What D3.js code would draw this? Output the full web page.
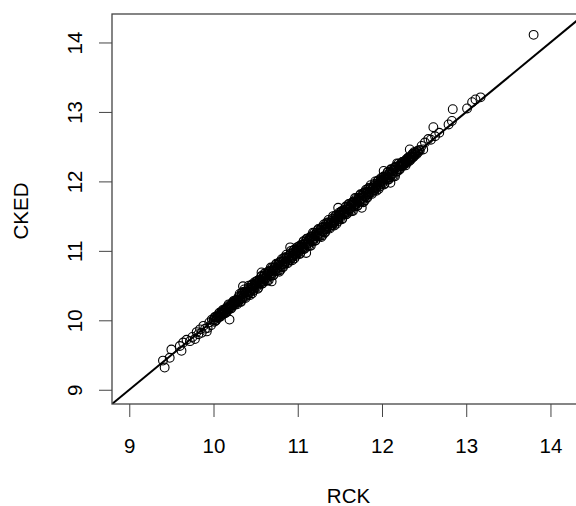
<!DOCTYPE html>
<html>
<head>
<meta charset="utf-8">
<script src="https://cdn.jsdelivr.net/npm/d3@7"></script>
<style>
  html, body { margin: 0; padding: 0; background: #fff; overflow: hidden; }
  text { font-family: "Liberation Sans", Arial, sans-serif; fill: #000; }
</style>
</head>
<body>
<div id="chart"></div>
<script>
// RCK (x) and CKED (y) values
const rck = [
  9.40, 9.42, 9.48, 9.50, 9.60, 9.62, 9.64, 9.68, 9.72, 9.75, 9.78, 9.80, 9.82, 9.84, 9.86, 9.88, 9.90, 9.92, 9.93, 9.95, 9.97, 9.98,
  10.00, 10.01, 10.02, 10.03, 10.04, 10.05, 10.06, 10.07, 10.08, 10.09,
  10.10, 10.11, 10.12, 10.13, 10.14, 10.15, 10.16, 10.17, 10.18, 10.19,
  10.20, 10.21, 10.22, 10.23, 10.24, 10.25, 10.26, 10.27, 10.28, 10.29,
  10.30, 10.31, 10.32, 10.33, 10.34, 10.35, 10.36, 10.37, 10.38, 10.39,
  10.40, 10.41, 10.42, 10.43, 10.44, 10.45, 10.46, 10.47, 10.48, 10.49,
  10.50, 10.51, 10.52, 10.53, 10.54, 10.55, 10.56, 10.57, 10.58, 10.59,
  10.60, 10.61, 10.62, 10.63, 10.64, 10.65, 10.66, 10.67, 10.68, 10.69,
  10.70, 10.71, 10.72, 10.73, 10.74, 10.75, 10.76, 10.77, 10.78, 10.79,
  10.80, 10.81, 10.82, 10.83, 10.84, 10.85, 10.86, 10.87, 10.88, 10.89,
  10.90, 10.91, 10.92, 10.93, 10.94, 10.95, 10.96, 10.97, 10.98, 10.99,
  11.00, 11.01, 11.02, 11.03, 11.04, 11.05, 11.06, 11.07, 11.08, 11.09,
  11.10, 11.11, 11.12, 11.13, 11.14, 11.15, 11.16, 11.17, 11.18, 11.19,
  11.20, 11.21, 11.22, 11.23, 11.24, 11.25, 11.26, 11.27, 11.28, 11.29,
  11.30, 11.31, 11.32, 11.33, 11.34, 11.35, 11.36, 11.37, 11.38, 11.39,
  11.40, 11.41, 11.42, 11.43, 11.44, 11.45, 11.46, 11.47, 11.48, 11.49,
  11.50, 11.51, 11.52, 11.53, 11.54, 11.55, 11.56, 11.57, 11.58, 11.59,
  11.60, 11.61, 11.62, 11.63, 11.64, 11.65, 11.66, 11.67, 11.68, 11.69,
  11.70, 11.71, 11.72, 11.73, 11.74, 11.75, 11.76, 11.77, 11.78, 11.79,
  11.80, 11.81, 11.82, 11.83, 11.84, 11.85, 11.86, 11.87, 11.88, 11.89,
  11.90, 11.91, 11.92, 11.93, 11.94, 11.95, 11.96, 11.97, 11.98, 11.99,
  12.00, 12.01, 12.02, 12.03, 12.04, 12.05, 12.06, 12.07, 12.08, 12.09,
  12.10, 12.11, 12.12, 12.13, 12.14, 12.15, 12.16, 12.17, 12.18, 12.19,
  12.20, 12.21, 12.22, 12.23, 12.24, 12.25, 12.26, 12.27, 12.28, 12.29,
  12.30, 12.31, 12.32, 12.33, 12.34, 12.35, 12.36, 12.37, 12.38, 12.39,
  12.40, 12.41, 12.42, 12.43, 12.44, 12.45,
  10.005, 10.015, 10.025, 10.035, 10.045, 10.055, 10.065, 10.075, 10.085, 10.095,
  10.105, 10.115, 10.125, 10.135, 10.145, 10.155, 10.165, 10.175, 10.185, 10.195,
  10.205, 10.215, 10.225, 10.235, 10.245, 10.255, 10.265, 10.275, 10.285, 10.295,
  10.305, 10.315, 10.325, 10.335, 10.345, 10.355, 10.365, 10.375, 10.385, 10.395,
  10.405, 10.415, 10.425, 10.435, 10.445, 10.455, 10.465, 10.475, 10.485, 10.495,
  10.505, 10.515, 10.525, 10.535, 10.545, 10.555, 10.565, 10.575, 10.585, 10.595,
  10.605, 10.615, 10.625, 10.635, 10.645, 10.655, 10.665, 10.675, 10.685, 10.695,
  10.705, 10.715, 10.725, 10.735, 10.745, 10.755, 10.765, 10.775, 10.785, 10.795,
  10.805, 10.815, 10.825, 10.835, 10.845, 10.855, 10.865, 10.875, 10.885, 10.895,
  10.905, 10.915, 10.925, 10.935, 10.945, 10.955, 10.965, 10.975, 10.985, 10.995,
  11.005, 11.015, 11.025, 11.035, 11.045, 11.055, 11.065, 11.075, 11.085, 11.095,
  11.105, 11.115, 11.125, 11.135, 11.145, 11.155, 11.165, 11.175, 11.185, 11.195,
  11.205, 11.215, 11.225, 11.235, 11.245, 11.255, 11.265, 11.275, 11.285, 11.295,
  11.305, 11.315, 11.325, 11.335, 11.345, 11.355, 11.365, 11.375, 11.385, 11.395,
  11.405, 11.415, 11.425, 11.435, 11.445, 11.455, 11.465, 11.475, 11.485, 11.495,
  11.505, 11.515, 11.525, 11.535, 11.545, 11.555, 11.565, 11.575, 11.585, 11.595,
  11.605, 11.615, 11.625, 11.635, 11.645, 11.655, 11.665, 11.675, 11.685, 11.695,
  11.705, 11.715, 11.725, 11.735, 11.745, 11.755, 11.765, 11.775, 11.785, 11.795,
  11.805, 11.815, 11.825, 11.835, 11.845, 11.855, 11.865, 11.875, 11.885, 11.895,
  11.905, 11.915, 11.925, 11.935, 11.945, 11.955, 11.965, 11.975, 11.985, 11.995,
  12.005, 12.015, 12.025, 12.035, 12.045, 12.055, 12.065, 12.075, 12.085, 12.095,
  12.105, 12.115, 12.125, 12.135, 12.145, 12.155, 12.165, 12.175, 12.185, 12.195,
  12.205, 12.215, 12.225, 12.235, 12.245, 12.255, 12.265, 12.275, 12.285, 12.295,
  12.305, 12.315, 12.325, 12.335, 12.345, 12.355, 12.365, 12.375, 12.385, 12.395,
  10.19, 10.35, 10.57, 10.69, 10.91, 11.10, 11.48, 11.76, 12.02, 12.10, 12.33,
  12.47, 12.49, 12.51, 12.55, 12.58, 12.63, 12.61, 12.68, 12.79, 12.83, 12.84, 13.01, 13.07, 13.11, 13.17, 13.80
];
const cked = [
  9.42, 9.32, 9.46, 9.58, 9.63, 9.56, 9.68, 9.72, 9.70, 9.76, 9.73, 9.83, 9.80, 9.87, 9.82, 9.92, 9.88, 9.84, 9.89, 9.97, 9.93, 10.01,
  10.01, 9.98, 10.05, 10.00, 10.05, 10.07, 10.05, 10.11, 10.05, 10.09,
  10.08, 10.15, 10.11, 10.15, 10.10, 10.16, 10.19, 10.15, 10.23, 10.18,
  10.21, 10.17, 10.25, 10.22, 10.28, 10.22, 10.26, 10.29, 10.23, 10.32,
  10.28, 10.38, 10.27, 10.35, 10.31, 10.41, 10.35, 10.41, 10.32, 10.40,
  10.43, 10.37, 10.50, 10.41, 10.44, 10.50, 10.39, 10.49, 10.45, 10.55,
  10.52, 10.48, 10.57, 10.47, 10.55, 10.59, 10.54, 10.64, 10.53, 10.59,
  10.56, 10.67, 10.61, 10.66, 10.57, 10.67, 10.71, 10.64, 10.76, 10.67,
  10.71, 10.65, 10.76, 10.72, 10.80, 10.71, 10.76, 10.80, 10.70, 10.84,
  10.78, 10.88, 10.77, 10.85, 10.81, 10.91, 10.85, 10.91, 10.82, 10.90,
  10.93, 10.87, 11.00, 10.91, 10.94, 11.00, 10.89, 10.99, 10.95, 11.05,
  11.02, 10.98, 11.07, 10.97, 11.05, 11.09, 11.04, 11.14, 11.03, 11.09,
  11.06, 11.17, 11.11, 11.16, 11.07, 11.17, 11.21, 11.14, 11.26, 11.17,
  11.21, 11.15, 11.26, 11.22, 11.30, 11.21, 11.26, 11.30, 11.20, 11.34,
  11.28, 11.38, 11.27, 11.35, 11.31, 11.41, 11.35, 11.41, 11.32, 11.40,
  11.43, 11.37, 11.50, 11.41, 11.44, 11.50, 11.39, 11.49, 11.45, 11.55,
  11.52, 11.48, 11.57, 11.47, 11.55, 11.59, 11.54, 11.64, 11.53, 11.59,
  11.56, 11.67, 11.61, 11.66, 11.57, 11.67, 11.71, 11.64, 11.76, 11.67,
  11.71, 11.65, 11.76, 11.72, 11.80, 11.71, 11.76, 11.80, 11.70, 11.84,
  11.78, 11.88, 11.77, 11.85, 11.81, 11.91, 11.85, 11.91, 11.82, 11.90,
  11.93, 11.87, 12.00, 11.91, 11.94, 12.00, 11.89, 11.99, 11.95, 12.05,
  12.02, 11.98, 12.07, 11.97, 12.05, 12.09, 12.04, 12.14, 12.03, 12.09,
  12.06, 12.17, 12.11, 12.16, 12.07, 12.17, 12.21, 12.14, 12.26, 12.17,
  12.21, 12.17, 12.25, 12.22, 12.28, 12.22, 12.26, 12.29, 12.23, 12.32,
  12.28, 12.34, 12.31, 12.35, 12.31, 12.36, 12.39, 12.35, 12.42, 12.38,
  12.41, 12.39, 12.44, 12.42, 12.45, 12.45,
  10.005, 10.045, 9.995, 10.045, 10.045, 10.035, 10.095, 10.055, 10.095, 10.115,
  10.135, 10.105, 10.105, 10.135, 10.165, 10.115, 10.175, 10.175, 10.165, 10.225,
  10.175, 10.225, 10.245, 10.225, 10.275, 10.255, 10.245, 10.295, 10.285, 10.265,
  10.345, 10.305, 10.265, 10.395, 10.325, 10.385, 10.445, 10.335, 10.395, 10.365,
  10.405, 10.465, 10.395, 10.365, 10.465, 10.515, 10.455, 10.425, 10.525, 10.505,
  10.495, 10.565, 10.455, 10.565, 10.545, 10.525, 10.625, 10.525, 10.605, 10.635,
  10.675, 10.595, 10.575, 10.645, 10.695, 10.575, 10.695, 10.675, 10.645, 10.755,
  10.645, 10.735, 10.765, 10.705, 10.815, 10.745, 10.715, 10.825, 10.785, 10.725,
  10.845, 10.805, 10.765, 10.895, 10.825, 10.885, 10.945, 10.835, 10.895, 10.865,
  10.905, 10.965, 10.895, 10.865, 10.965, 11.015, 10.955, 10.925, 11.025, 11.005,
  10.995, 11.065, 10.955, 11.065, 11.045, 11.025, 11.125, 11.025, 11.105, 11.135,
  11.175, 11.095, 11.075, 11.145, 11.195, 11.075, 11.195, 11.175, 11.145, 11.255,
  11.145, 11.235, 11.265, 11.205, 11.315, 11.245, 11.215, 11.325, 11.285, 11.225,
  11.345, 11.305, 11.265, 11.395, 11.325, 11.385, 11.445, 11.335, 11.395, 11.365,
  11.405, 11.465, 11.395, 11.365, 11.465, 11.515, 11.455, 11.425, 11.525, 11.505,
  11.495, 11.565, 11.455, 11.565, 11.545, 11.525, 11.625, 11.525, 11.605, 11.635,
  11.675, 11.595, 11.575, 11.645, 11.695, 11.575, 11.695, 11.675, 11.645, 11.755,
  11.645, 11.735, 11.765, 11.705, 11.815, 11.745, 11.715, 11.825, 11.785, 11.725,
  11.845, 11.805, 11.765, 11.895, 11.825, 11.885, 11.945, 11.835, 11.895, 11.865,
  11.905, 11.965, 11.895, 11.865, 11.965, 12.015, 11.955, 11.925, 12.025, 12.005,
  11.995, 12.065, 11.955, 12.065, 12.045, 12.025, 12.125, 12.025, 12.105, 12.135,
  12.175, 12.095, 12.075, 12.145, 12.195, 12.075, 12.195, 12.175, 12.145, 12.255,
  12.175, 12.225, 12.245, 12.225, 12.275, 12.255, 12.245, 12.295, 12.285, 12.265,
  12.305, 12.345, 12.295, 12.345, 12.345, 12.335, 12.395, 12.355, 12.395, 12.415,
  10.01, 10.49, 10.69, 10.56, 11.05, 10.97, 11.62, 11.62, 12.15, 11.98, 12.46,
  12.51, 12.46, 12.56, 12.61, 12.60, 12.65, 12.78, 12.70, 12.82, 12.87, 13.04, 13.05, 13.14, 13.18, 13.21, 14.11
];
const tickValues = [9, 10, 11, 12, 13, 14];
const xLabel = 'RCK';
const yLabel = 'CKED';

const width = 576, height = 506;
const plot = { left: 112, top: 14, right: 585, bottom: 404 };
const domain = [8.795, 14.41];
const fontSize = '20.5px';

const svg = d3.select('#chart').append('svg')
  .attr('width', width)
  .attr('height', height);

const x = d3.scaleLinear().domain(domain).range([plot.left, plot.right]);
const y = d3.scaleLinear().domain(domain).range([plot.bottom, plot.top]);

svg.append('defs').append('clipPath').attr('id', 'clip')
  .append('rect')
  .attr('x', plot.left).attr('y', plot.top)
  .attr('width', plot.right - plot.left)
  .attr('height', plot.bottom - plot.top);

const points = rck.map((v, i) => ({ x: v, y: cked[i] }));

svg.append('g')
  .attr('clip-path', 'url(#clip)')
  .selectAll('circle')
  .data(points)
  .enter()
  .append('circle')
  .attr('cx', d => x(d.x))
  .attr('cy', d => y(d.y))
  .attr('r', 4.4)
  .attr('fill', 'none')
  .attr('stroke', '#000')
  .attr('stroke-width', 1.1);

// identity line y = x
svg.append('line')
  .attr('clip-path', 'url(#clip)')
  .attr('x1', x(domain[0])).attr('y1', y(domain[0]))
  .attr('x2', x(domain[1])).attr('y2', y(domain[1]))
  .attr('stroke', '#000')
  .attr('stroke-width', 2);

// axes
const xAxis = svg.append('g')
  .attr('transform', 'translate(0,' + plot.bottom + ')')
  .call(d3.axisBottom(x).tickValues(tickValues).tickSize(13).tickFormat(d3.format('d')));
const yAxis = svg.append('g')
  .attr('transform', 'translate(' + plot.left + ',0)')
  .call(d3.axisLeft(y).tickValues(tickValues).tickSize(13).tickFormat(d3.format('d')));

[xAxis, yAxis].forEach(g => {
  g.select('.domain').remove();
  g.selectAll('.tick line').attr('stroke', '#444').attr('stroke-width', 1);
  g.selectAll('.tick text').style('font-size', fontSize).attr('fill', '#000');
});
xAxis.selectAll('.tick text').attr('dy', null).attr('y', 49);
yAxis.selectAll('.tick text')
  .attr('x', null).attr('dy', null)
  .attr('text-anchor', 'middle')
  .attr('transform', 'translate(-30,0) rotate(-90)');

// box
svg.append('rect')
  .attr('x', plot.left).attr('y', plot.top)
  .attr('width', plot.right - plot.left)
  .attr('height', plot.bottom - plot.top)
  .attr('fill', 'none')
  .attr('stroke', '#444')
  .attr('stroke-width', 1.3);

svg.append('text')
  .attr('x', (plot.left + plot.right) / 2)
  .attr('y', 503)
  .attr('text-anchor', 'middle')
  .style('font-size', fontSize)
  .text(xLabel);

svg.append('text')
  .attr('transform', 'translate(28,211) rotate(-90)')
  .attr('text-anchor', 'middle')
  .style('font-size', fontSize)
  .text(yLabel);
</script>
</body>
</html>
